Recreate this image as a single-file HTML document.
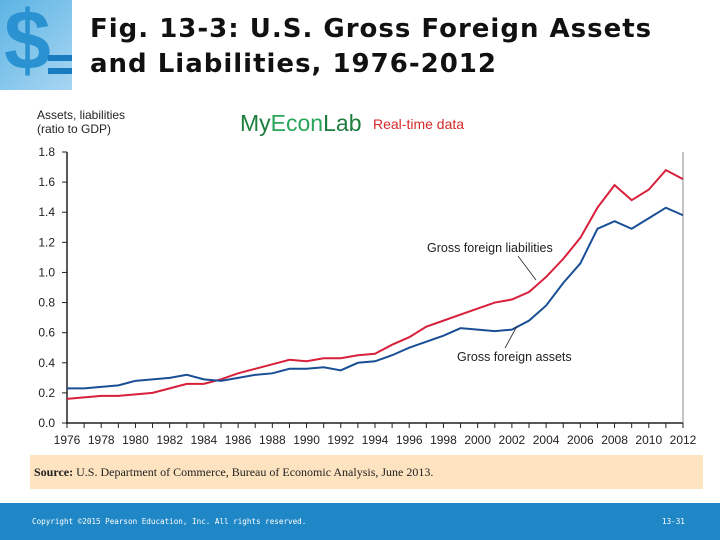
<!DOCTYPE html>
<html><head><meta charset="utf-8"><style>
body{margin:0;width:720px;height:540px;background:#fff;position:relative;overflow:hidden;font-family:"Liberation Sans",sans-serif}
.title{position:absolute;left:90px;top:12px;font:bold 26px "DejaVu Sans",sans-serif;letter-spacing:1px;line-height:35px;color:#111}
</style></head><body>
<div style="position:absolute;left:0;top:0;width:72px;height:90px;background:linear-gradient(135deg,#5cb4e4,#a8d6f2);overflow:hidden">
<div style="position:absolute;left:4px;top:-8px;font:bold 84px 'Liberation Sans';color:#2a92d0">$</div>
<div style="position:absolute;left:48px;top:55px;width:24px;height:6px;background:#1a7cc0"></div>
<div style="position:absolute;left:48px;top:68px;width:24px;height:6px;background:#1a7cc0"></div>
</div>
<div class="title">Fig. 13-3: U.S. Gross Foreign Assets<br>and Liabilities, 1976-2012</div>
<svg width="720" height="540" style="position:absolute;left:0;top:0">
<text x="37" y="119" font-size="12" fill="#222">Assets, liabilities</text>
<text x="37" y="133" font-size="12" fill="#222">(ratio to GDP)</text>
<text x="240" y="131" font-size="23" font-family="Liberation Sans"><tspan fill="#1c7d3c">My</tspan><tspan fill="#2aa65a">Econ</tspan><tspan fill="#1c7d3c">Lab</tspan></text>
<text x="373" y="129" font-size="14" fill="#d42a2a" font-family="Liberation Sans Narrow,Liberation Sans">Real-time data</text>
<g id="axes"></g><g id="series"></g>
<line x1="518" y1="256" x2="536" y2="280" stroke="#222" stroke-width="0.8"/>
<text x="427" y="252" font-size="12.5" fill="#222">Gross foreign liabilities</text>
<line x1="517" y1="326" x2="505" y2="348" stroke="#222" stroke-width="0.8"/>
<text x="457" y="361" font-size="12.5" fill="#222">Gross foreign assets</text>
</svg>
<div style="position:absolute;left:30px;top:455px;width:673px;height:34px;background:#fde3c0;font:12px 'Liberation Serif',serif;color:#222;line-height:34px;padding-left:4px;box-sizing:border-box"><b>Source:</b> U.S. Department of Commerce, Bureau of Economic Analysis, June 2013.</div>
<div style="position:absolute;left:0;top:503px;width:720px;height:37px;background:#1f87c5;color:#fff;font:7.6px 'DejaVu Sans Mono',monospace">
<span style="position:absolute;left:32px;top:14px">Copyright ©2015 Pearson Education, Inc. All rights reserved.</span>
<span style="position:absolute;left:662px;top:14px">13-31</span></div>
<script>
const years=[1976,1977,1978,1979,1980,1981,1982,1983,1984,1985,1986,1987,1988,1989,1990,1991,1992,1993,1994,1995,1996,1997,1998,1999,2000,2001,2002,2003,2004,2005,2006,2007,2008,2009,2010,2011,2012];
const assets=[0.23,0.23,0.24,0.25,0.28,0.29,0.30,0.32,0.29,0.28,0.30,0.32,0.33,0.36,0.36,0.37,0.35,0.40,0.41,0.45,0.50,0.54,0.58,0.63,0.62,0.61,0.62,0.68,0.78,0.93,1.06,1.29,1.34,1.29,1.36,1.43,1.38];
const liabilities=[0.16,0.17,0.18,0.18,0.19,0.20,0.23,0.26,0.26,0.29,0.33,0.36,0.39,0.42,0.41,0.43,0.43,0.45,0.46,0.52,0.57,0.64,0.68,0.72,0.76,0.80,0.82,0.87,0.97,1.09,1.23,1.43,1.58,1.48,1.55,1.68,1.62];
const yTicks=[0,0.2,0.4,0.6,0.8,1.0,1.2,1.4,1.6,1.8];
const xLabels=[1976,1978,1980,1982,1984,1986,1988,1990,1992,1994,1996,1998,2000,2002,2004,2006,2008,2010,2012];
const NS='http://www.w3.org/2000/svg';
const X=v=>67+(v-1976)*(683-67)/36, Y=v=>423-v*(423-152)/1.8;
function mk(p,t,a){const e=document.createElementNS(NS,t);for(const k in a)e.setAttribute(k,a[k]);p.appendChild(e);return e;}
const ax=document.getElementById('axes');
let e=mk(ax,'line',{x1:67,y1:152,x2:67,y2:424,stroke:'#222','stroke-width':1.5});


e=mk(ax,'line',{x1:66,y1:423,x2:683,y2:423,stroke:'#222','stroke-width':1.5});


e=mk(ax,'line',{x1:683,y1:152,x2:683,y2:428,stroke:'#888','stroke-width':1});


yTicks.forEach(t=>{mk(ax,'line',{x1:62,y1:Y(t),x2:67,y2:Y(t),stroke:'#222'});
const tx=mk(ax,'text',{x:55,y:Y(t)+4,'font-size':12,'text-anchor':'end',fill:'#222'});tx.textContent=t.toFixed(1);

});
years.forEach(y=>mk(ax,'line',{x1:X(y),y1:423,x2:X(y),y2:428,stroke:'#222'}));
xLabels.forEach(y=>{const tx=mk(ax,'text',{x:X(y),y:444,'font-size':12,'text-anchor':'middle',fill:'#222'});tx.textContent=y;

});
const sg=document.getElementById('series');
let p=mk(sg,'polyline',{points:years.map((y,i)=>X(y)+','+Y(liabilities[i])).join(' '),fill:'none',stroke:'#d8203a','stroke-width':2});


p=mk(sg,'polyline',{points:years.map((y,i)=>X(y)+','+Y(assets[i])).join(' '),fill:'none',stroke:'#1a4f96','stroke-width':2});


</script>
</body></html>
